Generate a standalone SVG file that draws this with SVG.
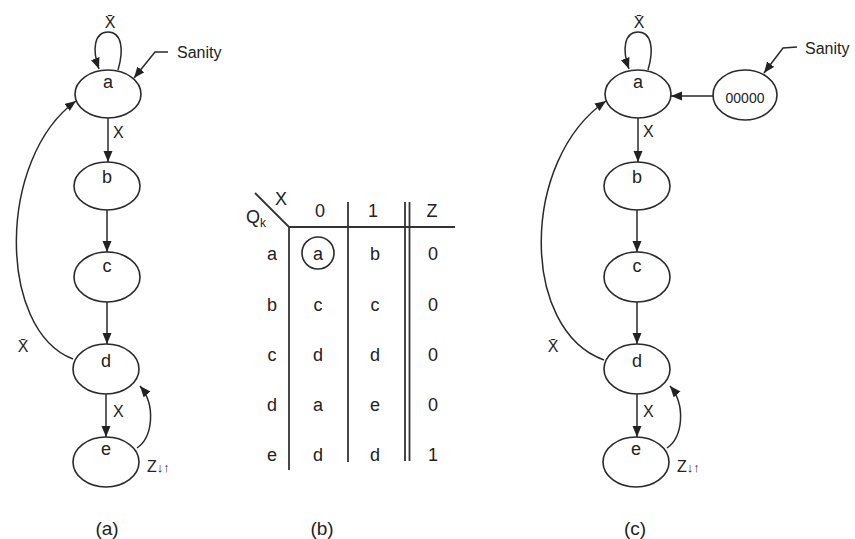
<svg xmlns="http://www.w3.org/2000/svg" width="855" height="539" viewBox="0 0 855 539">
<defs>
<marker id="ah" markerUnits="userSpaceOnUse" markerWidth="12" markerHeight="10" refX="11" refY="4.5" orient="auto">
<path d="M0,0 L11,4.5 L0,9 Z" fill="#222"/>
</marker>
<style>
.n{fill:none;stroke:#2a2a2a;stroke-width:1.6}
.c{fill:none;stroke:#2a2a2a;stroke-width:1.5}
.ca{fill:none;stroke:#2a2a2a;stroke-width:1.5;marker-end:url(#ah)}
text{font-family:"Liberation Sans",Arial,sans-serif;fill:#222}
.nl{font-size:18px;text-anchor:middle}
.lb{font-size:16px}
.tb{font-size:18px;text-anchor:middle}
.cap{font-size:19px;text-anchor:middle}
.tl{fill:none;stroke:#333;stroke-width:1.8}
</style>
</defs>
<rect width="855" height="539" fill="#fff"/>

<!-- Panel (a) -->
<g id="a-node-a"><ellipse class="n" cx="108" cy="94" rx="33" ry="24"/><text class="nl" x="108" y="88">a</text></g>
<g id="a-node-b"><ellipse class="n" cx="107" cy="186" rx="33" ry="24"/><text class="nl" x="107" y="183">b</text></g>
<g id="a-node-c"><ellipse class="n" cx="107" cy="277" rx="33" ry="25"/><text class="nl" x="107" y="272">c</text></g>
<g id="a-node-d"><ellipse class="n" cx="106" cy="369" rx="33" ry="25"/><text class="nl" x="106" y="367">d</text></g>
<g id="a-node-e"><ellipse class="n" cx="106" cy="462" rx="33" ry="25"/><text class="nl" x="106" y="455">e</text></g>
<g id="a-connectors">
<path class="ca" d="M118,70 C124,50 122,32 108,32 C94,32 92,50 99,69"/>
<polyline class="ca" points="168,52 155,52 134,78"/>
<line class="ca" x1="108" y1="118" x2="108" y2="162"/>
<line class="ca" x1="107" y1="210" x2="107" y2="252"/>
<line class="ca" x1="107" y1="302" x2="107" y2="344"/>
<line class="ca" x1="106" y1="394" x2="106" y2="437"/>
<path class="ca" d="M137,448 C153,437 156,405 140,386"/>
<path class="ca" d="M73,359 C-3,330 -3,158 76,101"/>
</g>
<g id="a-labels">
<text class="lb" x="110" y="28" text-anchor="middle">X̄</text>
<text class="lb" x="177" y="58">Sanity</text>
<text class="lb" x="113" y="138">X</text>
<text class="lb" x="113" y="417">X</text>
<text class="lb" x="23" y="352" text-anchor="middle">X̄</text>
<text class="lb" x="147" y="472">Z<tspan font-size="13">↓↑</tspan></text>
<text class="cap" x="107" y="535">(a)</text>
</g>

<!-- Panel (b) table -->
<g id="b-table">
<line class="tl" x1="255" y1="193" x2="289" y2="227"/>
<line class="tl" x1="289" y1="227" x2="455" y2="227"/>
<line class="tl" x1="289" y1="227" x2="289" y2="470"/>
<line class="tl" x1="348" y1="202" x2="348" y2="462"/>
<line class="tl" x1="405" y1="202" x2="405" y2="461"/>
<line class="tl" x1="409.5" y1="202" x2="409.5" y2="461"/>
<circle class="n" cx="318" cy="253" r="16"/>
<text class="tb" x="281" y="205">X</text>
<text class="tb" x="256" y="223">Q<tspan font-size="12" dy="4">k</tspan></text>
<text class="tb" x="320" y="217">0</text>
<text class="tb" x="373" y="217">1</text>
<text class="tb" x="432" y="217">Z</text>
<text class="tb" x="272" y="260">a</text><text class="tb" x="318" y="260">a</text><text class="tb" x="375" y="260">b</text><text class="tb" x="433" y="260">0</text>
<text class="tb" x="272" y="311">b</text><text class="tb" x="318" y="311">c</text><text class="tb" x="375" y="311">c</text><text class="tb" x="433" y="311">0</text>
<text class="tb" x="272" y="361">c</text><text class="tb" x="318" y="361">d</text><text class="tb" x="375" y="361">d</text><text class="tb" x="433" y="361">0</text>
<text class="tb" x="272" y="411">d</text><text class="tb" x="318" y="411">a</text><text class="tb" x="375" y="411">e</text><text class="tb" x="433" y="411">0</text>
<text class="tb" x="272" y="461">e</text><text class="tb" x="318" y="461">d</text><text class="tb" x="375" y="461">d</text><text class="tb" x="433" y="461">1</text>
<text class="cap" x="322" y="535">(b)</text>
</g>

<!-- Panel (c) -->
<g id="c-node-a"><ellipse class="n" cx="638" cy="94" rx="33" ry="24"/><text class="nl" x="638" y="88">a</text></g>
<g id="c-node-reset"><ellipse class="n" cx="745" cy="95" rx="32" ry="25"/><text x="745" y="103" font-size="14" text-anchor="middle">00000</text></g>
<g id="c-node-b"><ellipse class="n" cx="637" cy="186" rx="33" ry="24"/><text class="nl" x="637" y="183">b</text></g>
<g id="c-node-c"><ellipse class="n" cx="637" cy="277" rx="33" ry="25"/><text class="nl" x="637" y="272">c</text></g>
<g id="c-node-d"><ellipse class="n" cx="637" cy="369" rx="33" ry="25"/><text class="nl" x="637" y="367">d</text></g>
<g id="c-node-e"><ellipse class="n" cx="636" cy="462" rx="33" ry="25"/><text class="nl" x="636" y="455">e</text></g>
<g id="c-connectors">
<path class="ca" d="M648,70 C654,50 652,32 638,32 C624,32 622,50 629,69"/>
<polyline class="ca" points="797,47 783,48 764,73"/>
<line class="ca" x1="713" y1="96" x2="671" y2="96"/>
<line class="ca" x1="638" y1="118" x2="638" y2="162"/>
<line class="ca" x1="637" y1="210" x2="637" y2="252"/>
<line class="ca" x1="637" y1="302" x2="637" y2="344"/>
<line class="ca" x1="637" y1="394" x2="637" y2="437"/>
<path class="ca" d="M667,448 C683,437 686,405 670,386"/>
<path class="ca" d="M604,360 C520,330 520,160 606,101"/>
</g>
<g id="c-labels">
<text class="lb" x="639" y="28" text-anchor="middle">X̄</text>
<text class="lb" x="805" y="54">Sanity</text>
<text class="lb" x="643" y="137">X</text>
<text class="lb" x="643" y="417">X</text>
<text class="lb" x="553" y="352" text-anchor="middle">X̄</text>
<text class="lb" x="677" y="472">Z<tspan font-size="13">↓↑</tspan></text>
<text class="cap" x="635" y="535">(c)</text>
</g>
</svg>
